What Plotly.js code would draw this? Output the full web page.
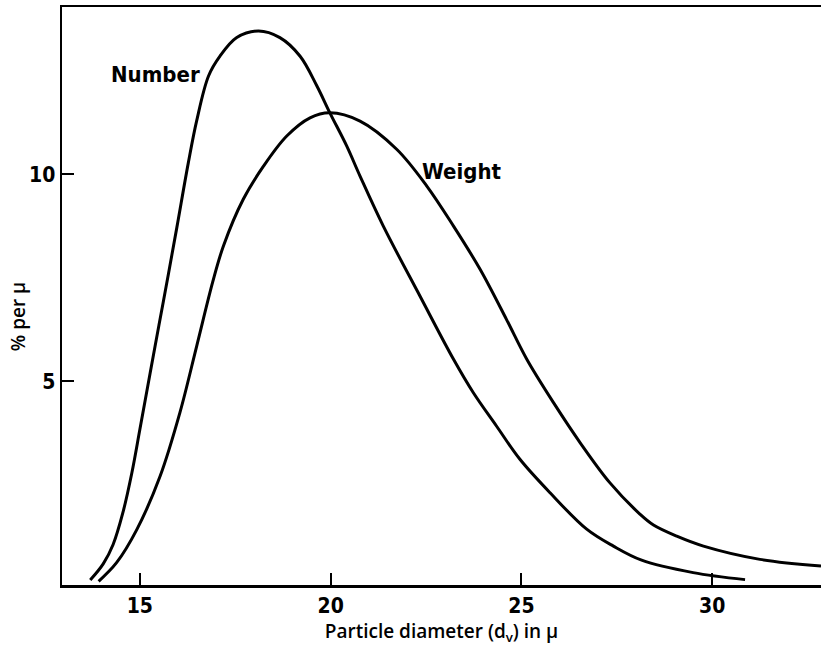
<!DOCTYPE html>
<html>
<head>
<meta charset="utf-8">
<script src="https://cdn.plot.ly/plotly-3.0.1.min.js"></script>
<style>html,body{margin:0;padding:0;background:#fff;}#chart{width:821px;height:650px;}</style>
</head>
<body>
<div id="chart"></div>
<script>
// Number distribution (% per micron) vs particle diameter (micron)
const numberX = [13.70, 14.04, 14.30, 14.55, 14.79, 15.00, 15.27, 15.50, 15.75, 15.97, 16.27, 16.49, 16.80, 17.10, 17.54, 18.11, 18.67, 19.20, 19.64, 19.98, 20.42, 20.77, 21.38, 22.34, 23.22, 23.74, 24.35, 24.96, 25.75, 26.71, 27.41, 28.15, 29.50, 30.86];
const numberY = [0.19, 0.58, 1.05, 1.80, 2.78, 3.83, 5.20, 6.35, 7.60, 8.72, 10.28, 11.30, 12.38, 12.86, 13.31, 13.47, 13.31, 12.86, 12.14, 11.49, 10.69, 9.96, 8.75, 7.06, 5.53, 4.72, 3.91, 3.11, 2.30, 1.42, 1.01, 0.67, 0.37, 0.20];

// Weight distribution (% per micron)
const weightX = [13.92, 14.39, 14.92, 15.53, 16.05, 16.49, 16.91, 17.19, 17.71, 18.24, 18.85, 19.46, 19.98, 20.77, 21.73, 22.52, 23.22, 23.92, 24.61, 25.14, 25.84, 26.54, 27.32, 28.11, 28.46, 29.07, 29.77, 31.25, 32.85];
const weightY = [0.16, 0.61, 1.41, 2.70, 4.24, 5.85, 7.40, 8.27, 9.40, 10.20, 10.93, 11.37, 11.49, 11.29, 10.61, 9.72, 8.75, 7.70, 6.49, 5.53, 4.48, 3.51, 2.54, 1.78, 1.52, 1.25, 1.01, 0.69, 0.53];

const xTicks = [15, 20, 25, 30];
const yTicks = [5, 10];

const labelNames = ["Number", "Weight"];
const labelX = [15.42, 23.44];
const labelY = [12.42, 10.07];

const lineStyle = {color: '#000', width: 3, shape: 'spline', smoothing: 1};
const traces = [
  {x: numberX, y: numberY, mode: 'lines', line: lineStyle, name: 'Number', hoverinfo: 'skip'},
  {x: weightX, y: weightY, mode: 'lines', line: lineStyle, name: 'Weight', hoverinfo: 'skip'}
];

const condFont = '"Liberation Sans Narrow", "DejaVu Sans Condensed", "DejaVu Sans", sans-serif';
const tickFont = {family: condFont, size: 21, color: '#000', weight: 'bold'};
const titleFont = {family: '"Open Sans", "DejaVu Sans", sans-serif', size: 19, color: '#000', weight: 600};

const layout = {
  width: 821, height: 650,
  margin: {l: 62, r: 0, t: 7, b: 65},
  paper_bgcolor: '#fff', plot_bgcolor: '#fff',
  showlegend: false,
  xaxis: {
    range: [12.96, 32.85],
    tickvals: xTicks, ticktext: xTicks.map(String),
    ticks: 'inside', ticklen: 12, tickwidth: 2, tickcolor: '#000',
    showline: true, linewidth: 2.5, linecolor: '#000', mirror: true,
    showgrid: false, zeroline: false,
    tickfont: tickFont,
    title: {text: 'Particle diameter (d<sub>v</sub>) in μ', font: titleFont, standoff: 6}
  },
  yaxis: {
    range: [0.07, 14.05],
    tickvals: yTicks, ticktext: yTicks.map(String),
    ticks: 'inside', ticklen: 12, tickwidth: 2, tickcolor: '#000',
    showline: true, linewidth: 2.5, linecolor: '#000', mirror: false,
    showgrid: false, zeroline: false,
    tickfont: tickFont
  },
  annotations: labelNames.map((t, i) => ({
    x: labelX[i], y: labelY[i], xref: 'x', yref: 'y', text: t, showarrow: false,
    font: {family: condFont, size: 22, color: '#000', weight: 'bold'}
  })).concat([{
    x: -0.058, y: 0.465, xref: 'paper', yref: 'paper', text: '% per μ', textangle: -90,
    showarrow: false, xanchor: 'center', yanchor: 'middle', font: titleFont
  }])
};

Plotly.newPlot('chart', traces, layout, {staticPlot: true, displayModeBar: false});
</script>
</body>
</html>
